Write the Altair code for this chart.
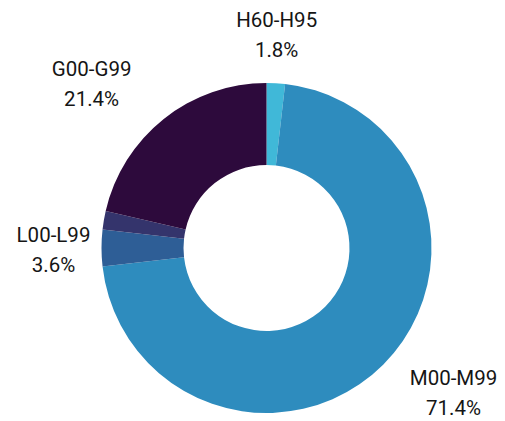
import altair as alt
import pandas as pd

categories = ["H60-H95", "M00-M99", "L00-L99", "Other", "G00-G99"]
shares = [1.8, 71.4, 3.6, 1.8, 21.4]
colors = ["#40B8D8", "#2E8CBE", "#2E5E96", "#34346C", "#2D0A3C"]
labelled = ["H60-H95", "M00-M99", "L00-L99", "G00-G99"]

df = pd.DataFrame({"cat": categories, "share": shares, "idx": list(range(len(categories)))})

base = alt.Chart(df)

arc = base.mark_arc(outerRadius=165, innerRadius=83).encode(
    theta=alt.Theta("share:Q", stack=True),
    order=alt.Order("idx:Q"),
    color=alt.Color("cat:N", scale=alt.Scale(domain=categories, range=colors), legend=None),
)

label_offsets = {"H60-H95": (-2, -12), "M00-M99": (35, -21), "L00-L99": (2, -12), "G00-G99": (-41, -10)}

layers = [arc]
for cat in labelled:
    dx, dy = label_offsets[cat]
    t = (
        base.transform_window(cum="sum(share)", frame=[None, 0], sort=[alt.SortField("idx")])
        .transform_joinaggregate(total="sum(share)")
        .transform_calculate(
            mid="(datum.cum - datum.share/2)/datum.total*2*PI",
            lbl="datum.cat + '|' + format(datum.share, '.1f') + '%'",
        )
        .transform_filter(alt.datum.cat == cat)
        .mark_text(font="Roboto", fontSize=20.5, color="#151515", lineHeight=30,
                   lineBreak="|", dx=dx, dy=dy, align="center", baseline="middle")
        .encode(
            theta=alt.Theta("mid:Q", scale=None, stack=False),
            radius=alt.value(215),
            text="lbl:N",
        )
    )
    layers.append(t)

chart = alt.layer(*layers).properties(
    width=400,
    height=330,
    padding={"left": 58.5, "top": 75, "right": 30.5, "bottom": 8},
    autosize=alt.AutoSizeParams(type="none"),
    background="white",
).configure_view(stroke=None)

chart.save("out.html", embed_options={"renderer": "svg", "actions": False})
